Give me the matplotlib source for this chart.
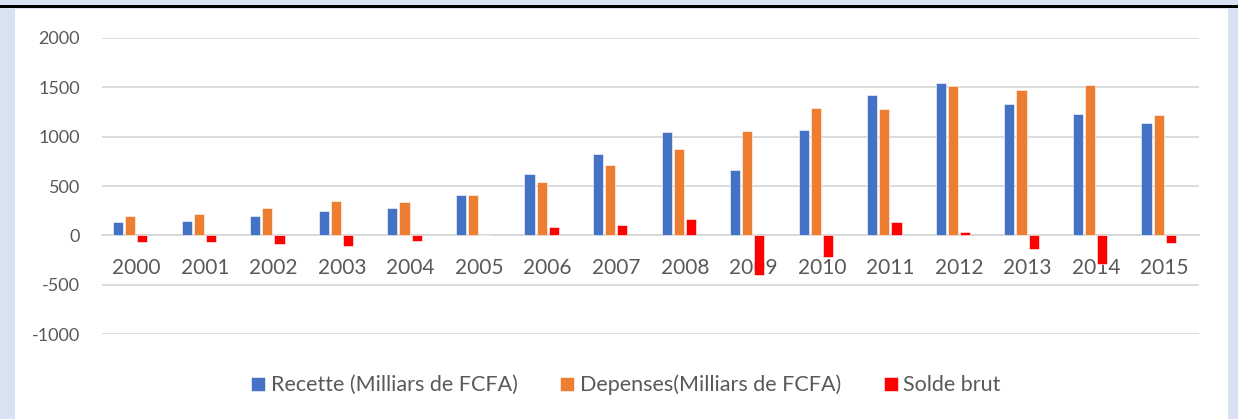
import matplotlib
matplotlib.use("Agg")
import matplotlib.pyplot as plt
import numpy as np
from matplotlib.patches import Rectangle

years = ["2000", "2001", "2002", "2003", "2004", "2005", "2006", "2007",
         "2008", "2009", "2010", "2011", "2012", "2013", "2014", "2015"]
recette = [135, 150, 195, 250, 275, 405, 625, 820, 1045, 660, 1070, 1425, 1545, 1335, 1230, 1140]
depenses = [200, 220, 280, 350, 335, 405, 545, 710, 875, 1060, 1290, 1285, 1515, 1470, 1520, 1215]
solde = [-70, -65, -85, -105, -60, 0, 85, 105, 170, -400, -220, 140, 30, -135, -290, -80]
y_ticks = [-1000, -500, 0, 500, 1000, 1500, 2000]
series_names = ["Recette (Milliars de FCFA)", "Depenses(Milliars de FCFA)", "Solde brut"]
colors = ["#4472C4", "#ED7D31", "#FF0000"]

plt.rcParams['font.family'] = ['Lato', 'DejaVu Sans']
W, H = 1238, 419
fig = plt.figure(figsize=(W / 100, H / 100), dpi=100)
fig.patch.set_facecolor("#D9E2F3")

# white panel and top black rule
fig.patches.append(Rectangle((15 / W, 0), (1228 - 15) / W, 1 - 9 / H,
                             transform=fig.transFigure, facecolor="white",
                             edgecolor="none", zorder=-2))
fig.patches.append(Rectangle((0, 1 - 8.3 / H), 1, 3.3 / H,
                             transform=fig.transFigure, facecolor="black",
                             edgecolor="none", zorder=-2))

left, right = 102 / W, 1199 / W
bottom, top = 1 - 334 / H, 1 - 38 / H
ax = fig.add_axes([left, bottom, right - left, top - bottom])
ax.set_zorder(2)
ax.set_facecolor("none")

x = np.arange(len(years))
slot = 0.177
bw = 0.148
for i, (vals, c, name) in enumerate(zip([recette, depenses, solde], colors, series_names)):
    ax.bar(x + (i - 1.5) * slot, vals, width=bw, color=c, edgecolor="white",
           linewidth=0.4, label=name, zorder=3)

ax.set_xlim(-0.5, len(years) - 0.5)
ax.set_ylim(-1000, 2000)
ax.set_yticks(y_ticks)
ax.set_yticklabels([str(v) for v in y_ticks])
ax.yaxis.grid(True, color="#D9D9D9", linewidth=1.3, zorder=0)
ax.set_axisbelow(True)
for s in ["left", "right", "top"]:
    ax.spines[s].set_visible(False)
ax.spines["bottom"].set_position(("data", 0))
ax.spines["bottom"].set_color("#D9D9D9")
ax.spines["bottom"].set_linewidth(1.3)
ax.set_xticks(x)
ax.set_xticklabels(years)
ax.tick_params(axis="x", length=0, pad=16, labelsize=15, labelcolor="#595959")
ax.tick_params(axis="y", length=0, pad=16, labelsize=13, labelcolor="#595959")

leg = fig.legend(loc="center", bbox_to_anchor=(626 / W, 1 - 385 / H), ncol=3,
                 frameon=False, fontsize=15.5, handlelength=0.65, handleheight=0.65,
                 handletextpad=0.25, columnspacing=2.0, labelcolor="#595959")

fig.savefig("out.png", dpi=100, facecolor=fig.get_facecolor())
